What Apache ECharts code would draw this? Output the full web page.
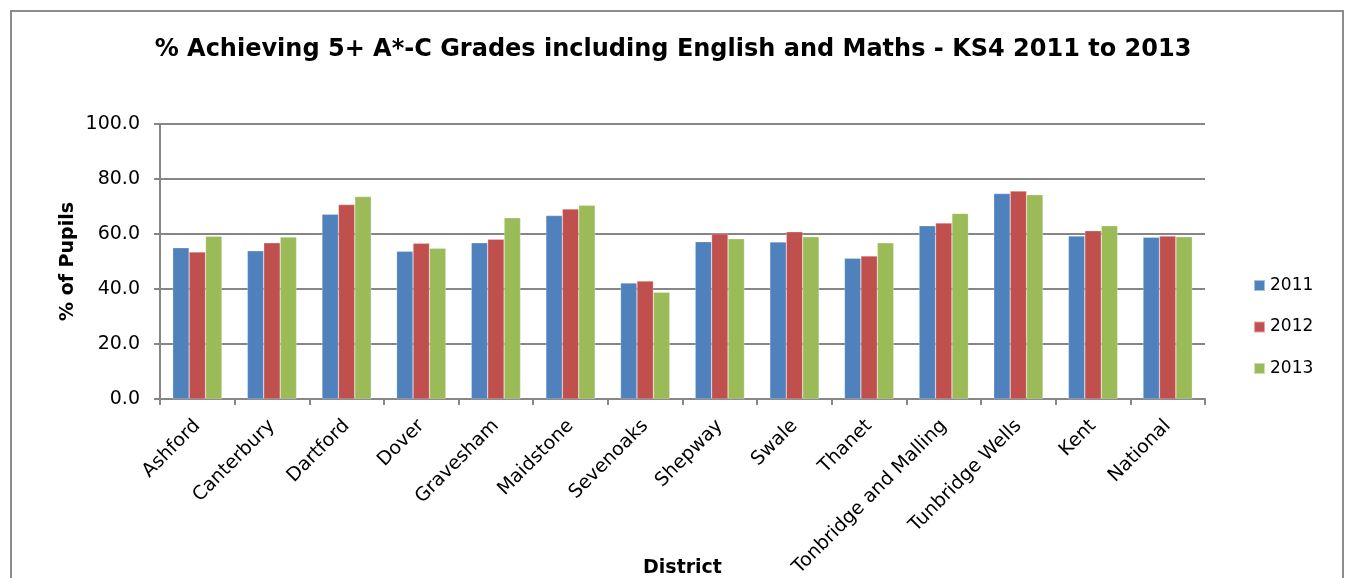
<!DOCTYPE html>
<html><head><meta charset="utf-8">
<script src="https://cdn.jsdelivr.net/npm/echarts@6/dist/echarts.min.js"></script>
<style>html,body{margin:0;padding:0;background:#fff}#c{width:1346px;height:578px}</style>
</head><body><div id="c"></div>
<script>
const categories = ["Ashford","Canterbury","Dartford","Dover","Gravesham","Maidstone","Sevenoaks","Shepway","Swale","Thanet","Tonbridge and Malling","Tunbridge Wells","Kent","National"];
const y2011 = [55.0,53.9,67.2,53.7,56.8,66.7,42.2,57.2,57.1,51.2,63.0,74.7,59.3,58.8];
const y2012 = [53.5,56.8,70.7,56.6,58.1,69.1,42.9,60.1,60.8,52.0,64.0,75.6,61.2,59.3];
const y2013 = [59.2,58.9,73.6,54.8,65.9,70.5,38.8,58.3,59.0,56.8,67.5,74.3,63.0,59.0];
const seriesNames = ["2011","2012","2013"];
const colors = ["#4F81BD","#C0504D","#9BBB59"];
const yTicks = [0,20,40,60,80,100];

const chart = echarts.init(document.getElementById('c'));
const font = '"DejaVu Sans", Verdana, sans-serif';
const gridColor = '#868686';
chart.setOption({
  animation:false,
  textStyle:{fontFamily:font},
  graphic:[{type:'rect',shape:{x:11,y:11,width:1332,height:600},style:{fill:'none',stroke:'#8c8c8c',lineWidth:2},silent:true}],
  title:{text:'% Achieving 5+ A*-C Grades including English and Maths - KS4 2011 to 2013',left:'center',top:33,
    textStyle:{fontFamily:font,fontWeight:'bold',fontSize:24,color:'#000'}},
  legend:{orient:'vertical',left:1248,top:272,itemGap:24.5,itemWidth:11,itemHeight:11,icon:'rect',
    textStyle:{fontFamily:font,fontSize:17,color:'#000'},data:seriesNames},
  grid:{left:160,right:141,top:124,bottom:179,containLabel:false,outerBoundsMode:'none'},
  xAxis:{type:'category',data:categories,name:'District',nameLocation:'middle',nameGap:160,nameMoveOverlap:false,
    nameTextStyle:{fontFamily:font,fontWeight:'bold',fontSize:19,color:'#000'},
    axisLine:{lineStyle:{color:gridColor,width:2}},
    axisTick:{show:true,alignWithLabel:false,length:6,lineStyle:{color:gridColor,width:2}},
    axisLabel:{rotate:45,fontSize:19,color:'#000',margin:24,interval:0}},
  yAxis:{type:'value',min:0,max:100,interval:20,name:'% of Pupils',nameLocation:'middle',nameGap:82,nameMoveOverlap:false,
    nameTextStyle:{fontFamily:font,fontWeight:'bold',fontSize:19,color:'#000'},
    axisLine:{show:true,lineStyle:{color:gridColor,width:2}},
    axisTick:{show:true,length:6,lineStyle:{color:gridColor,width:2}},
    splitLine:{lineStyle:{color:gridColor,width:2}},
    axisLabel:{fontSize:19,color:'#000',margin:20,formatter:v=>v.toFixed(1)}},
  series:[y2011,y2012,y2013].map((d,i)=>({name:seriesNames[i],type:'bar',data:d,barGap:'0%',barCategoryGap:'34%',
    itemStyle:{color:colors[i],borderColor:'rgba(255,255,255,0.5)',borderWidth:0.5}}))
});
</script></body></html>
